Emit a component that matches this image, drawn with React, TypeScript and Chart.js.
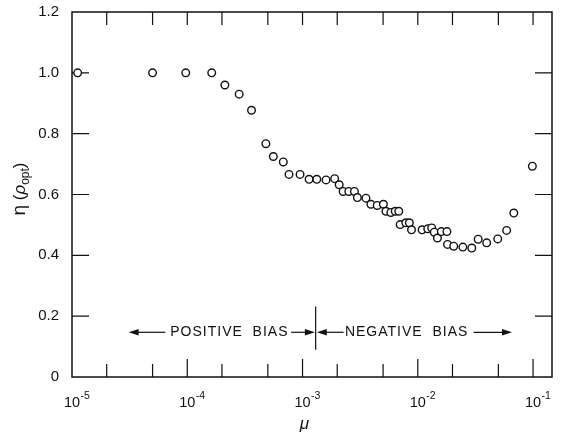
import { useEffect, useRef } from 'react';
import { Chart, registerables } from 'chart.js';

Chart.register(...registerables);

// ---- data ----
const muValues = [
  1.12e-5, 5.0e-5, 9.7e-5, 1.63e-4, 2.12e-4, 2.82e-4, 3.61e-4, 4.81e-4, 5.58e-4, 6.81e-4,
  7.63e-4, 9.52e-4, 1.14e-3, 1.33e-3, 1.6e-3, 1.9e-3, 2.08e-3, 2.25e-3, 2.52e-3, 2.82e-3,
  2.99e-3, 3.55e-3, 3.92e-3, 4.45e-3, 5.03e-3, 5.29e-3, 5.84e-3, 6.37e-3, 6.84e-3, 7.03e-3,
  7.87e-3, 8.45e-3, 8.82e-3, 1.09e-2, 1.22e-2, 1.32e-2, 1.39e-2, 1.48e-2, 1.6e-2, 1.79e-2,
  1.81e-2, 2.05e-2, 2.46e-2, 2.94e-2, 3.34e-2, 3.96e-2, 4.94e-2, 5.9e-2, 6.81e-2, 9.86e-2,
];
const etaValues = [
  1.0, 1.0, 1.0, 1.0, 0.96, 0.93, 0.877, 0.767, 0.725, 0.707,
  0.666, 0.666, 0.65, 0.65, 0.648, 0.652, 0.632, 0.61, 0.61, 0.61,
  0.59, 0.588, 0.568, 0.564, 0.568, 0.545, 0.541, 0.545, 0.545, 0.501,
  0.507, 0.507, 0.484, 0.484, 0.487, 0.49, 0.476, 0.457, 0.478, 0.478,
  0.436, 0.43, 0.427, 0.424, 0.453, 0.441, 0.454, 0.482, 0.539, 0.693,
];

const yTickValues = [0, 0.2, 0.4, 0.6, 0.8, 1.0, 1.2];
const yTickLabels = ['0', '0.2', '0.4', '0.6', '0.8', '1.0', '1.2'];
const xTickValues = [1e-5, 1e-4, 1e-3, 1e-2, 1e-1];
const xTickExponents = ['-5', '-4', '-3', '-2', '-1'];
const xMinorMultipliers = [2, 5];
const xMin = 1e-5;
const xMax = 0.146;

const biasDivider = 1.3e-3;
const biasLineRange = [0.09, 0.232];
const biasLabels = ['POSITIVE  BIAS', 'NEGATIVE  BIAS'];
const biasLabelCenters = [2.32e-4, 8.0e-3];
const biasLabelY = 0.147;
const arrowTails = [6.45e-5, 7.96e-4, 2.27e-3, 3.05e-2];
const arrowTips = [3.1e-5, 1.28e-3, 1.33e-3, 6.57e-2];

const xTitle = 'μ';
const xTitleAt = 1e-3;
const INK = '#111';
const FONT = '"Liberation Sans", Arial, sans-serif';

const framePlugin = {
  id: 'frameAndNotes',
  beforeDatasetsDraw(chart: any) {
    const { ctx, chartArea: a, scales } = chart;
    const xs = scales.x;
    const ys = scales.y;
    ctx.save();
    ctx.strokeStyle = INK;
    ctx.lineWidth = 1.5;
    ctx.strokeRect(a.left, a.top, a.right - a.left, a.bottom - a.top);
    ctx.lineWidth = 1.2;
    ctx.beginPath();
    for (const d of xTickValues) {
      for (const m of [1, ...xMinorMultipliers]) {
        const v = d * m;
        if (v <= xs.min * 1.0001 || v >= xs.max) continue;
        const px = xs.getPixelForValue(v);
        const len = m === 1 ? 18 : 13;
        ctx.moveTo(px, a.bottom);
        ctx.lineTo(px, a.bottom - len);
        ctx.moveTo(px, a.top);
        ctx.lineTo(px, a.top + 13);
      }
    }
    for (const yv of yTickValues) {
      if (yv <= ys.min || yv >= ys.max) continue;
      const py = ys.getPixelForValue(yv);
      ctx.moveTo(a.left, py);
      ctx.lineTo(a.left + 17, py);
      ctx.moveTo(a.right, py);
      ctx.lineTo(a.right - 17, py);
    }
    ctx.stroke();

    // bias annotation
    ctx.lineWidth = 1.2;
    const dx = xs.getPixelForValue(biasDivider);
    ctx.beginPath();
    ctx.moveTo(dx, ys.getPixelForValue(biasLineRange[0]));
    ctx.lineTo(dx, ys.getPixelForValue(biasLineRange[1]));
    ctx.stroke();
    const ly = ys.getPixelForValue(biasLabelY);
    ctx.fillStyle = INK;
    ctx.font = '14px ' + FONT;
    (ctx as any).letterSpacing = '1px';
    ctx.textAlign = 'center';
    ctx.textBaseline = 'middle';
    biasLabels.forEach((t, i) => {
      ctx.fillText(t, xs.getPixelForValue(biasLabelCenters[i]), ly);
    });
    (ctx as any).letterSpacing = '0px';
    arrowTails.forEach((tail, i) => {
      const x0 = xs.getPixelForValue(tail);
      const x1 = xs.getPixelForValue(arrowTips[i]);
      const dir = x1 > x0 ? 1 : -1;
      ctx.beginPath();
      ctx.moveTo(x0, ly);
      ctx.lineTo(x1 - dir * 6, ly);
      ctx.stroke();
      ctx.beginPath();
      ctx.moveTo(x1, ly);
      ctx.lineTo(x1 - dir * 10, ly - 3.2);
      ctx.lineTo(x1 - dir * 10, ly + 3.2);
      ctx.closePath();
      ctx.fill();
    });
    ctx.restore();
  },
  afterDraw(chart: any) {
    const { ctx, scales } = chart;
    const xs = scales.x;
    ctx.save();
    ctx.fillStyle = INK;
    ctx.textBaseline = 'alphabetic';
    // x tick labels with superscripts
    xTickValues.forEach((v, i) => {
      const px = xs.getPixelForValue(v);
      ctx.font = '14.5px ' + FONT;
      const w10 = ctx.measureText('10').width;
      ctx.textAlign = 'left';
      ctx.fillText('10', px - w10 / 2, 406.5);
      ctx.font = '10.5px ' + FONT;
      ctx.fillText(xTickExponents[i], px + w10 / 2 + 0.5, 398.5);
    });
    // x title
    ctx.font = 'italic 17px ' + FONT;
    ctx.textAlign = 'center';
    ctx.fillText(xTitle, xs.getPixelForValue(xTitleAt) + 2, 429);
    // y title: eta (rho_opt), rotated
    const cy = 189;
    ctx.translate(22, cy);
    ctx.rotate(-Math.PI / 2);
    const parts = [
      { t: 'η', f: '19px ' + FONT, dy: 0 },
      { t: ' (', f: '17px ' + FONT, dy: 0 },
      { t: 'ρ', f: 'italic 17px ' + FONT, dy: 0 },
      { t: 'opt', f: '12px ' + FONT, dy: 4 },
      { t: ')', f: '17px ' + FONT, dy: 0 },
    ];
    let total = 0;
    const widths = parts.map((p) => {
      ctx.font = p.f;
      const w = ctx.measureText(p.t).width;
      total += w;
      return w;
    });
    let x = -total / 2;
    ctx.textAlign = 'left';
    parts.forEach((p, i) => {
      ctx.font = p.f;
      ctx.fillText(p.t, x, 3 + p.dy);
      x += widths[i];
    });
    ctx.restore();
  },
};

export default function App() {
  const ref = useRef<HTMLCanvasElement>(null);
  useEffect(() => {
    const points = muValues.map((m, i) => ({ x: m, y: etaValues[i] }));
    const chart = new Chart(ref.current as HTMLCanvasElement, {
      type: 'scatter',
      data: {
        datasets: [
          {
            data: points,
            pointRadius: 3.8,
            pointBorderWidth: 1.4,
            borderColor: INK,
            backgroundColor: '#fff',
            pointBackgroundColor: '#fff',
            pointBorderColor: INK,
            showLine: false,
          } as any,
        ],
      },
      options: {
        animation: false,
        responsive: false,
        devicePixelRatio: 1,
        layout: { padding: { top: 12, right: 32, left: 0, bottom: 0 } },
        plugins: { legend: { display: false }, tooltip: { enabled: false } },
        scales: {
          x: {
            type: 'logarithmic',
            min: xMin,
            max: xMax,
            grid: { display: false, drawTicks: false },
            border: { display: false },
            ticks: { display: false },
            afterFit: (s: any) => {
              s.height = 59;
              s.paddingLeft = 0;
              s.paddingRight = 0;
            },
          },
          y: {
            type: 'linear',
            min: 0,
            max: 1.2,
            grid: { display: false, drawTicks: false },
            border: { display: false },
            afterBuildTicks: (s: any) => {
              s.ticks = yTickValues.map((v) => ({ value: v }));
            },
            ticks: {
              color: INK,
              padding: 13,
              font: { family: '"Liberation Sans", Arial, sans-serif', size: 15 },
              callback: (v: any) => {
                const idx = yTickValues.findIndex((t) => Math.abs(t - Number(v)) < 1e-9);
                return idx >= 0 ? yTickLabels[idx] : '';
              },
            },
            afterFit: (s: any) => {
              s.width = 72;
              s.paddingTop = 0;
              s.paddingBottom = 0;
            },
          },
        },
      },
      plugins: [framePlugin],
    } as any);
    return () => chart.destroy();
  }, []);
  return (
    <canvas
      ref={ref}
      width={584}
      height={436}
      style={{ position: 'fixed', left: 0, top: 0, display: 'block', width: 584, height: 436, background: '#fff' }}
    />
  );
}
